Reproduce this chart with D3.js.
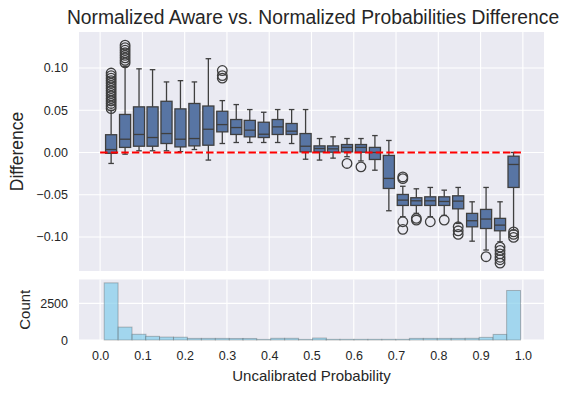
<!DOCTYPE html>
<html lang="en">
<head>
<meta charset="UTF-8">
<title>Normalized Aware vs. Normalized Probabilities Difference</title>
<script src="https://cdnjs.cloudflare.com/ajax/libs/d3/7.8.5/d3.min.js"></script>
<style>
    body { margin: 0; background: #fff; }
    svg text { font-family: "Liberation Sans", Arial, sans-serif; fill: #262626; }
</style>
</head>
<body>
<svg id="chart" width="570" height="393"></svg>
<script>
    // bin centres (uncalibrated probability), 30 bins
    const binCenters = [0.026, 0.059, 0.092, 0.124, 0.157, 0.190, 0.223, 0.256, 0.289, 0.322,
        0.354, 0.387, 0.420, 0.453, 0.486, 0.519, 0.551, 0.584, 0.617, 0.650,
        0.683, 0.716, 0.748, 0.781, 0.814, 0.847, 0.880, 0.913, 0.946, 0.978];
    const binWidth = 0.0328;

    // box stats per bin (difference)
    const whiskLow = [-0.013, -0.002, 0.002, 0.002, 0.002, 0.001, 0.0035, -0.009, 0.0106, 0.0118,
        0.0118, 0.0118, 0.0118, 0.0106, -0.008, -0.009, -0.0067, -0.005, -0.010, -0.021,
        -0.069, -0.076, -0.072, -0.076, -0.0745, -0.084, -0.105, -0.1155, -0.1057, -0.092];
    const q1 = [-0.001, 0.006, 0.0074, 0.0074, 0.0106, 0.0066, 0.0078, 0.0086, 0.0244, 0.0213,
        0.0185, 0.0177, 0.0213, 0.0213, 0.0007, 0.0007, 0.0003, 0.0007, 0.0003, -0.0083,
        -0.0426, -0.0627, -0.0627, -0.0627, -0.0627, -0.0667, -0.088, -0.090, -0.0927, -0.0414];
    const medians = [0.0035, 0.0157, 0.0213, 0.0177, 0.0224, 0.0157, 0.0165, 0.0275, 0.033, 0.0295,
        0.0264, 0.0216, 0.0303, 0.0252, 0.0074, 0.0047, 0.0043, 0.006, 0.006, 0.0,
        -0.0307, -0.0564, -0.0572, -0.0572, -0.058, -0.0576, -0.0808, -0.0788, -0.086, -0.0142];
    const q3 = [0.021, 0.045, 0.054, 0.054, 0.0606, 0.0516, 0.058, 0.055, 0.0488, 0.039,
        0.038, 0.0358, 0.039, 0.0343, 0.0224, 0.0078, 0.0078, 0.0094, 0.0094, 0.006,
        -0.0035, -0.0497, -0.0536, -0.0525, -0.0525, -0.0513, -0.0721, -0.0674, -0.078, -0.0044];
    const whiskHigh = [0.050, 0.102, 0.099, 0.098, 0.0835, 0.085, 0.0835, 0.111, 0.0614, 0.0567,
        0.0508, 0.0476, 0.0508, 0.0508, 0.0508, 0.0165, 0.0185, 0.0165, 0.0165, 0.020,
        0.0142, -0.040, -0.043, -0.0414, -0.0446, -0.0414, -0.0584, -0.0414, -0.0584, 0.0];
    const outliers = [
        [0.052, 0.055, 0.058, 0.061, 0.064, 0.067, 0.070, 0.073, 0.076, 0.079, 0.082, 0.085, 0.088, 0.091, 0.094],
        [0.106, 0.109, 0.112, 0.115, 0.118, 0.121, 0.124, 0.127],
        [], [], [], [], [], [],
        [0.088, 0.091, 0.097],
        [], [], [], [], [], [], [], [],
        [-0.013],
        [-0.017],
        [],
        [],
        [-0.029, -0.031, -0.082, -0.091],
        [-0.078, -0.080],
        [-0.082],
        [-0.080],
        [-0.088, -0.0927, -0.097],
        [],
        [-0.1234],
        [-0.112, -0.116, -0.120, -0.124, -0.127, -0.131],
        [-0.094, -0.097, -0.1005]
    ];

    // histogram counts per bin
    const counts = [3900, 880, 390, 250, 200, 190, 110, 110, 110, 105,
        105, 40, 115, 115, 40, 135, 45, 45, 45, 45,
        45, 45, 110, 110, 110, 110, 115, 180, 380, 3380];

    const xTicks = [0, 0.1, 0.2, 0.3, 0.4, 0.5, 0.6, 0.7, 0.8, 0.9, 1.0];
    const yTicks = [-0.10, -0.05, 0.00, 0.05, 0.10];
    const countTicks = [0, 2500];

    const svg = d3.select("#chart");
    const left = 79, right = 544;
    const top1 = 32, bottom1 = 271;
    const top2 = 279.5, bottom2 = 340;

    const x = d3.scaleLinear().domain([-0.05, 1.05]).range([left, right]);
    const y = d3.scaleLinear().domain([-0.1403, 0.1426]).range([bottom1, top1]);
    const yc = d3.scaleLinear().domain([0, 4130]).range([bottom2, top2]);

    function panel(yTop, yBot, ys, ticks, fmt) {
        const g = svg.append("g");
        g.append("rect").attr("x", left).attr("y", yTop)
            .attr("width", right - left).attr("height", yBot - yTop).attr("fill", "#eaeaf2");
        g.selectAll(".vg").data(xTicks).enter().append("line")
            .attr("x1", d => x(d)).attr("x2", d => x(d))
            .attr("y1", yTop).attr("y2", yBot)
            .attr("stroke", "#fff").attr("stroke-width", 1.1);
        g.selectAll(".hg").data(ticks).enter().append("line")
            .attr("x1", left).attr("x2", right)
            .attr("y1", d => ys(d)).attr("y2", d => ys(d))
            .attr("stroke", "#fff").attr("stroke-width", 1.1);
        const ax = g.append("g").attr("transform", `translate(${left},0)`)
            .call(d3.axisLeft(ys).tickValues(ticks).tickFormat(fmt).tickSize(0).tickPadding(11));
        ax.select(".domain").remove();
        ax.selectAll("text").style("font-size", "12.5px")
            .style("font-family", "'Liberation Sans', Arial, sans-serif").attr("fill", "#262626");
    }

    panel(top1, bottom1, y, yTicks, d3.format(".2f"));
    panel(top2, bottom2, yc, countTicks, d3.format("d"));

    // boxes
    const bw = x(binWidth * 0.8) - x(0);
    const boxes = svg.append("g");
    const lineCol = "#3f3f3f";
    binCenters.forEach((c, i) => {
        const cx = x(c);
        const g = boxes.append("g");
        g.append("line").attr("x1", cx).attr("x2", cx)
            .attr("y1", y(whiskHigh[i])).attr("y2", y(q3[i]))
            .attr("stroke", lineCol).attr("stroke-width", 1.3);
        g.append("line").attr("x1", cx).attr("x2", cx)
            .attr("y1", y(q1[i])).attr("y2", y(whiskLow[i]))
            .attr("stroke", lineCol).attr("stroke-width", 1.3);
        [whiskHigh[i], whiskLow[i]].forEach(v => {
            g.append("line").attr("x1", cx - bw / 4).attr("x2", cx + bw / 4)
                .attr("y1", y(v)).attr("y2", y(v))
                .attr("stroke", lineCol).attr("stroke-width", 1.3);
        });
        g.append("rect").attr("x", cx - bw / 2).attr("y", y(q3[i]))
            .attr("width", bw).attr("height", Math.max(0.5, y(q1[i]) - y(q3[i])))
            .attr("fill", "#5875a4").attr("stroke", lineCol).attr("stroke-width", 1.3);
        g.append("line").attr("x1", cx - bw / 2).attr("x2", cx + bw / 2)
            .attr("y1", y(medians[i])).attr("y2", y(medians[i]))
            .attr("stroke", lineCol).attr("stroke-width", 1.3);
        g.selectAll("circle").data(outliers[i]).enter().append("circle")
            .attr("cx", cx).attr("cy", d => y(d)).attr("r", 4.8)
            .attr("fill", "none").attr("stroke", lineCol).attr("stroke-width", 1.3);
    });

    // red dashed zero line
    svg.append("line").attr("x1", x(0)).attr("x2", x(1))
        .attr("y1", y(0)).attr("y2", y(0))
        .attr("stroke", "#ff0000").attr("stroke-width", 2)
        .attr("stroke-dasharray", "7.4,3.2");

    // histogram
    svg.append("g").selectAll("rect").data(counts).enter().append("rect")
        .attr("x", (d, i) => x(binCenters[i] - binWidth / 2))
        .attr("width", x(binWidth) - x(0))
        .attr("y", d => yc(d))
        .attr("height", d => yc(0) - yc(d))
        .attr("fill", "#87ceeb").attr("fill-opacity", 0.72)
        .attr("stroke", "#4a4a4a").attr("stroke-opacity", 0.35).attr("stroke-width", 1);

    // x axis tick labels
    const xa = svg.append("g").attr("transform", `translate(0,${bottom2})`)
        .call(d3.axisBottom(x).tickValues(xTicks).tickFormat(d3.format(".1f")).tickSize(0).tickPadding(11));
    xa.select(".domain").remove();
    xa.selectAll("text").style("font-size", "12.5px")
        .style("font-family", "'Liberation Sans', Arial, sans-serif").attr("fill", "#262626");

    // labels
    svg.append("text").attr("x", (left + right) / 2 + 1.5).attr("y", 24)
        .attr("text-anchor", "middle").style("font-size", "19.3px")
        .text("Normalized Aware vs. Normalized Probabilities Difference");
    svg.append("text").attr("x", (left + right) / 2).attr("y", 381)
        .attr("text-anchor", "middle").style("font-size", "15px")
        .text("Uncalibrated Probability");
    svg.append("text").attr("transform", `translate(23,${(top1 + bottom1) / 2}) rotate(-90)`)
        .attr("text-anchor", "middle").style("font-size", "17.5px")
        .text("Difference");
    svg.append("text").attr("transform", `translate(30,${(top2 + bottom2) / 2}) rotate(-90)`)
        .attr("text-anchor", "middle").style("font-size", "15px")
        .text("Count");
</script>
</body>
</html>
